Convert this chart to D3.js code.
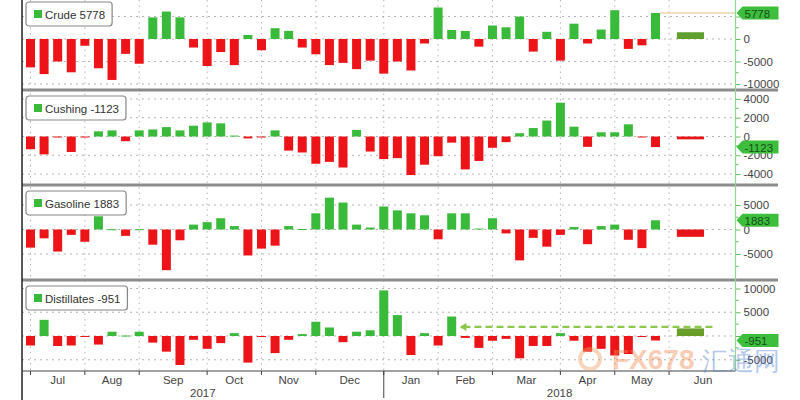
<!DOCTYPE html>
<html><head><meta charset="utf-8">
<script src="https://cdn.jsdelivr.net/npm/d3@7"></script>
<style>
body{margin:0;background:#fff;}
text{font-family:"Liberation Sans",Arial,sans-serif;}
</style></head>
<body><svg id="c" width="800" height="400"></svg>
<script>
// ---- data ----
const crude = [-6300,-7800,-5000,-7400,-1500,-6500,-9100,-3300,-5500,4800,6100,4800,-1900,-6000,-2900,-5800,900,-2500,2400,1800,-1900,-3400,-5800,-5300,-6700,-4800,-7700,-5000,-7000,-1000,7000,2000,1800,-1700,3000,2600,5000,-2800,1600,-4800,3400,-1000,2100,6400,-2200,-1400,5778];
const cushing = [-1350,-1900,-50,-1650,-50,550,650,-500,650,750,1000,650,1150,1500,1400,100,-200,-50,650,-1500,-1700,-2900,-2700,-3300,700,-1600,-2400,-2300,-4100,-3000,-2100,-650,-3500,-2600,-1200,-600,350,900,1700,3600,1050,-1100,450,450,1300,-50,-1123];
const gasoline = [-3700,-1800,-4500,-1100,-2500,2700,50,-1300,50,-3100,-8300,-2200,1000,1500,2300,700,-5300,-3900,-3300,700,100,3300,6500,5500,1000,400,4700,3900,3300,2900,-2000,3300,3300,200,2300,-800,-6300,-1700,-3500,-1100,500,-3000,700,1000,-2100,-3800,1883];
const distillates = [-2000,3400,-2100,-2000,-100,-1800,900,100,900,-1400,-3300,-6100,-800,-2700,-1500,600,-5600,-200,-3600,-800,400,3000,1800,-1300,900,1200,9600,4400,-4000,600,-2000,4100,-400,-2500,-1000,-600,-4700,-2100,-2100,600,-1000,-3300,-2700,-4100,-3800,-100,-951];
const seriesNames = ["Crude","Cushing","Gasoline","Distillates"];
const forecasts = [1500,-300,-1500,1600];
const forecastColors = ["#5f9e2f","#e8141a","#e8141a","#6a9e2a"];
const tickValues = [[5000,0,-5000,-10000],[4000,2000,0,-2000,-4000],[5000,0,-5000],[10000,5000,0,-5000]];
const tickLabelsShown = [["","0","-5000","-10000"],["4000","2000","0","-2000","-4000"],["5000","0","-5000"],["10000","5000","","-5000"]];
const monthLabels = ["Jul","Aug","Sep","Oct","Nov","Dec","Jan","Feb","Mar","Apr","May","Jun"];
const yearLabels = ["2017","2018"];
const firstWeek = new Date(2017,6,7);
const forecastSpan = [new Date(2018,5,5), new Date(2018,5,19)];
const annotation = {from:new Date(2018,1,13), to:new Date(2018,5,25), level:1900};

// ---- layout ----
const svg = d3.select("#c");
const L = 22, R = 735.5, axisY = 371;
const dates = d3.range(crude.length).map(i => d3.timeDay.offset(firstWeek, 7*i));
const x = d3.scaleTime().domain([firstWeek, new Date(2018,5,1)]).range([30.5, 669.1]);
const bw = 9;
const panels = [
  {vals:crude, top:0, bot:90, dom:[-11333,8667]},
  {vals:cushing, top:90, bot:185, dom:[-5160,4950]},
  {vals:gasoline, top:185, bot:280, dom:[-10306,9082]},
  {vals:distillates, top:280, bot:371, dom:[-7370,11790]}
];
const RED="#ec1419", GREEN="#3aba3a";

const monthTicks = [];
for (let m=0;m<13;m++){
  let d = new Date(2017,6+m,1);
  while (d.getDay()!==5) d = d3.timeDay.offset(d,1);
  monthTicks.push(d);
}
svg.append("g").selectAll("line").data(monthTicks.slice(0,12)).join("line")
  .attr("x1",d=>x(d)).attr("x2",d=>x(d)).attr("y1",0).attr("y2",axisY)
  .attr("stroke","#b4b4b4").attr("stroke-width",1).attr("stroke-dasharray","1.5,4");

panels.forEach((p,pi)=>{
  const y = d3.scaleLinear().domain(p.dom).range([p.bot,p.top]);
  p.y = y;
  const g = svg.append("g");
  g.selectAll("line.h").data(tickValues[pi]).join("line").attr("class","h")
    .attr("x1",L).attr("x2",R).attr("y1",d=>y(d)).attr("y2",d=>y(d))
    .attr("stroke","#b4b4b4").attr("stroke-dasharray","2,4");
  g.selectAll("rect.b").data(p.vals).join("rect").attr("class","b")
    .attr("x",(d,i)=>x(dates[i])-bw/2).attr("width",bw)
    .attr("y",d=>Math.min(y(d),y(0))).attr("height",d=>Math.max(1,Math.abs(y(d)-y(0))))
    .attr("fill",d=>d>=0?GREEN:RED);
  g.append("rect").attr("x",x(forecastSpan[0])).attr("width",x(forecastSpan[1])-x(forecastSpan[0]))
    .attr("y",Math.min(y(forecasts[pi]),y(0))).attr("height",Math.abs(y(forecasts[pi])-y(0)))
    .attr("fill",forecastColors[pi]);
  const ax = d3.axisRight(y).tickValues(tickValues[pi]).tickSize(5).tickFormat((d,i)=>tickLabelsShown[pi][i]);
  const ag = g.append("g").attr("transform",`translate(${R},0)`).call(ax);
  ag.select(".domain").remove();
  ag.selectAll(".tick line").attr("stroke","#5cbf5c");
  ag.selectAll(".tick text").attr("fill","#444").attr("font-size",11.5).attr("x",8)
    .attr("font-family","Liberation Sans, Arial, sans-serif");
  const step = tickValues[pi][0]-tickValues[pi][1];
  const minors = tickValues[pi].map(v=>v-step/2).filter(v=>y(v)>p.top+2 && y(v)<p.bot-2);
  g.selectAll("line.m").data(minors).join("line").attr("class","m")
    .attr("x1",R).attr("x2",R+3).attr("y1",d=>y(d)).attr("y2",d=>y(d)).attr("stroke","#5cbf5c");
  const last = p.vals[p.vals.length-1];
  const lg = g.append("g").attr("transform",`translate(26,${p.top+(pi===0?2:6)})`);
  const txt = lg.append("text").attr("x",19).attr("y",16.5).attr("font-size",11.5).attr("fill","#333")
    .attr("font-family","Liberation Sans, Arial, sans-serif")
    .text(`${seriesNames[pi]}  ${last}`);
  const tw = txt.node().getComputedTextLength();
  lg.insert("rect","text").attr("x",0).attr("y",0).attr("width",tw+26).attr("height",24).attr("rx",3)
    .attr("fill","#fff").attr("stroke","#888").attr("stroke-width",1.2);
  lg.insert("rect","text").attr("x",8).attr("y",8).attr("width",8).attr("height",8).attr("fill",GREEN);
  if (pi===0){
    g.append("line").attr("x1",x(dates[dates.length-1])+bw/2).attr("x2",R).attr("y1",y(last)).attr("y2",y(last))
      .attr("stroke","#e2c088").attr("stroke-width",1);
  }
  const cy = y(last);
  const lab = svg.append("g").attr("class","lab");
  lab.append("path").attr("d",`M${R+1},${cy} L${R+7},${cy-6.5} L${R+43},${cy-6.5} L${R+43},${cy+6.5} L${R+7},${cy+6.5} Z`)
    .attr("fill","#3dbf3d");
  lab.append("text").attr("x",R+9).attr("y",cy+4.5).attr("font-size",11.5).attr("fill","#17501a").text(last);
});

{
  const y = panels[3].y;
  const ay = y(annotation.level);
  svg.append("line").attr("x1",x(annotation.from)+4).attr("x2",x(annotation.to)).attr("y1",ay).attr("y2",ay)
    .attr("stroke","#8cc84a").attr("stroke-width",2.2).attr("stroke-dasharray","7,4");
  const ax0 = x(annotation.from);
  svg.append("path").attr("d",`M${ax0},${ay} L${ax0+7},${ay-4} L${ax0+7},${ay+4} Z`).attr("fill","#8cc84a");
}

svg.append("g").selectAll("line").data(panels.slice(1)).join("line")
  .attr("x1",L).attr("x2",778).attr("y1",d=>d.top).attr("y2",d=>d.top)
  .attr("stroke","#8c8c8c").attr("stroke-width",3);

svg.append("line").attr("x1",R).attr("x2",R).attr("y1",0).attr("y2",axisY).attr("stroke","#8fd48f").attr("stroke-width",1.2);
svg.append("line").attr("x1",L).attr("x2",L).attr("y1",0).attr("y2",400).attr("stroke","#222").attr("stroke-width",1.5);
svg.append("line").attr("x1",L).attr("x2",R).attr("y1",axisY).attr("y2",axisY).attr("stroke","#444").attr("stroke-width",1.2);
svg.append("g").selectAll("line").data(monthTicks.slice(0,12)).join("line")
  .attr("x1",d=>x(d)).attr("x2",d=>x(d)).attr("y1",axisY).attr("y2",axisY+4).attr("stroke","#444");
svg.append("g").selectAll("text").data(monthLabels).join("text")
  .attr("x",(d,i)=>(x(monthTicks[i])+x(monthTicks[i+1]))/2).attr("y",384)
  .attr("text-anchor","middle").attr("font-size",11.5).attr("fill","#444").text(d=>d);
const jan = monthTicks[6];
svg.append("line").attr("x1",x(jan)).attr("x2",x(jan)).attr("y1",axisY).attr("y2",398).attr("stroke","#444");
svg.append("g").selectAll("text").data(yearLabels).join("text")
  .attr("x",(d,i)=> i===0 ? (L+x(jan))/2 : (x(jan)+R)/2).attr("y",397)
  .attr("text-anchor","middle").attr("font-size",11.5).attr("fill","#444").text(d=>d);

const wm = svg.append("g").attr("opacity",0.42);
wm.append("circle").attr("cx",590).attr("cy",359).attr("r",10).attr("fill","none").attr("stroke","#f0a060").attr("stroke-width",4);
wm.append("text").attr("x",612).attr("y",369).attr("font-size",28).attr("fill","#f28a50").attr("font-weight","bold").text("FX678");
wm.append("text").attr("x",702).attr("y",370).attr("font-size",26).attr("fill","#4f7fd0").attr("font-family","Noto Sans CJK SC").text("汇通网");
</script></body></html>
